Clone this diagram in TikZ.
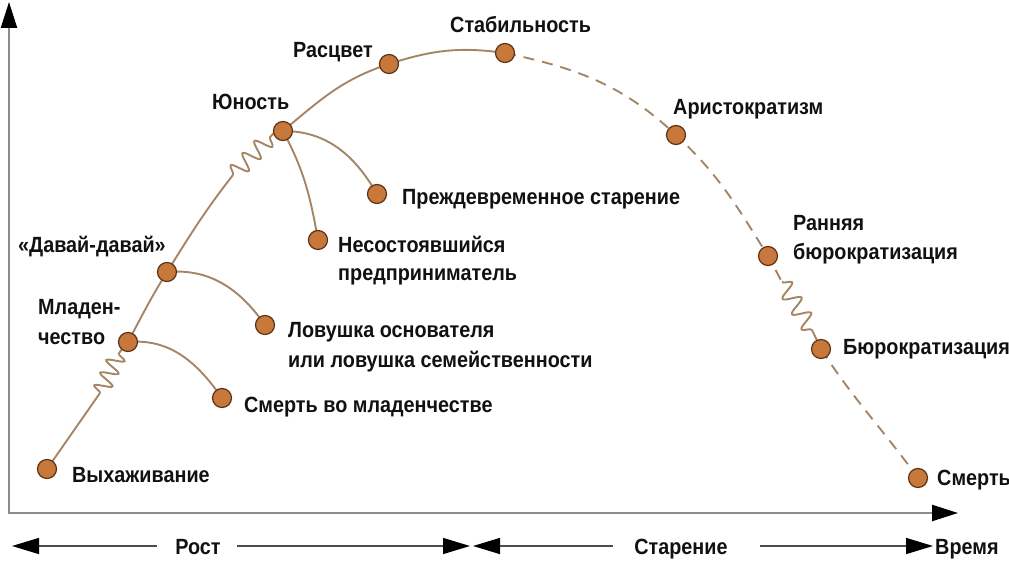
\documentclass[tikz,border=0pt]{standalone}
\usepackage{fontspec}
\setmainfont{Liberation Sans}[FakeStretch=0.9]
\usetikzlibrary{arrows.meta,decorations.pathmorphing}
\definecolor{curve}{HTML}{A48565}
\definecolor{dotfill}{HTML}{C8783A}
\definecolor{dotedge}{HTML}{5C3418}
\definecolor{axisgray}{HTML}{8C8C8C}
\definecolor{txt}{HTML}{111111}
\pgfdeclarelayer{bg}
\pgfsetlayers{bg,main}
\begin{document}
\begin{tikzpicture}[x=1pt,y=1pt,
 dot/.style={circle,fill=dotfill,draw=dotedge,line width=1.2pt,minimum size=19pt,inner sep=0pt},
 lbl/.style={anchor=base west,inner sep=0pt,text=txt,font=\fontsize{22}{26}\selectfont\bfseries},
 clbl/.style={lbl,anchor=base},
 crv/.style={draw=curve,line width=1.9pt},
 dcrv/.style={crv,dash pattern=on 11pt off 8pt},
 spring/.style={crv,decorate,decoration={snake,segment length=#1,amplitude=8.5pt}},
 axis/.style={draw=axisgray,line width=2.3pt},
 barr/.style={draw=black!70,line width=1.4pt},
 tip/.style={-{Triangle[length=27pt,width=16pt,color=black]}}]
\useasboundingbox (0,0) rectangle (1009,560);
% dots
\node[dot] (A) at (47,91) {};
\node[dot] (B) at (128,218) {};
\node[dot] (C) at (167,288) {};
\node[dot] (D) at (283,429) {};
\node[dot] (E) at (389,496) {};
\node[dot] (F) at (505,507) {};
\node[dot] (G) at (676,425) {};
\node[dot] (H) at (768,304) {};
\node[dot] (I) at (821,211) {};
\node[dot] (J) at (918,82) {};
\node[dot] (K) at (377,366) {};
\node[dot] (L) at (318,320) {};
\node[dot] (M) at (265,235) {};
\node[dot] (N) at (222,162) {};
% spring ends
\coordinate (S1a) at (100,167);
\coordinate (S1b) at (119,207);
\coordinate (S2a) at (233,385);
\coordinate (S2b) at (275,428);
\coordinate (S3a) at (782,278);
\coordinate (S3b) at (813,228);
\begin{pgfonlayer}{bg}
\draw[crv] (A.center) -- (S1a);
\draw[spring=14pt] (S1a) -- (S1b);
\draw[crv] (S1b) -- (B.center) to[out=62,in=238] (C.center) to[out=58,in=232] (S2a);
\draw[spring=17pt] (S2a) -- (S2b);
\draw[crv] (S2b) -- (D.center) to[out=40,in=198] (E.center) to[out=18,in=172] (F.center);
\draw[dcrv] (F.center) to[out=-12,in=137] (G.center) to[out=-43,in=122] (H.center) -- (S3a);
\draw[spring=18pt] (S3a) -- (S3b);
\draw[dcrv] (S3b) -- (I.center) to[out=-57,in=126] (J.center);
% branches
\draw[crv] (B.center) to[out=5,in=125] (N.center);
\draw[crv] (C.center) to[out=5,in=125] (M.center);
\draw[crv] (D.center) to[out=0,in=120] (K.center);
\draw[crv] (D.center) to[out=-62,in=100] (L.center);
\end{pgfonlayer}
% labels
\node[lbl] (tA) at (72,78) {Выхаживание};
\node[lbl] (tB1) at (38,245) {Младен-};
\node[lbl] (tB2) at (38,215) {чество};
\node[lbl] (tC) at (18,307) {«Давай-давай»};
\node[lbl] (tD) at (212,450) {Юность};
\node[lbl] (tE) at (293,502) {Расцвет};
\node[lbl] (tF) at (450,527) {Стабильность};
\node[lbl] (tG) at (673,445) {Аристократизм};
\node[lbl] (tH1) at (793,329) {Ранняя};
\node[lbl] (tH2) at (793,300) {бюрократизация};
\node[lbl] (tI) at (843,205) {Бюрократизация};
\node[lbl] (tJ) at (937,75) {Смерть};
\node[lbl] (tK) at (402,355) {Преждевременное старение};
\node[lbl] (tL1) at (338,307) {Несостоявшийся};
\node[lbl] (tL2) at (338,279) {предприниматель};
\node[lbl] (tM1) at (288,222) {Ловушка основателя};
\node[lbl] (tM2) at (288,193) {или ловушка семейственности};
\node[lbl] (tN) at (244,148) {Смерть во младенчестве};
% axes
\coordinate (Ytop) at (9,558);
\coordinate (O) at (9,47);
\coordinate (Xend) at (958,47);
\draw[axis,{Triangle[length=26pt,width=16pt,color=black]}-{Triangle[length=26pt,width=16pt,color=black]}] (Ytop) -- (O) -- (Xend);
% bottom scale
\node[clbl] (tR) at (198,6) {Рост};
\node[clbl] (tS) at (681,6) {Старение};
\node[lbl] (tT) at (935,6) {Время};
\coordinate (b1) at (12,14);
\coordinate (b2) at (157,14);
\coordinate (b3) at (237,14);
\coordinate (b4) at (470,14);
\coordinate (b5) at (473,14);
\coordinate (b6) at (613,14);
\coordinate (b7) at (760,14);
\coordinate (b8) at (933,14);
\draw[barr,tip] (b2) -- (b1);
\draw[barr,tip] (b3) -- (b4);
\draw[barr,tip] (b6) -- (b5);
\draw[barr,tip] (b7) -- (b8);
\end{tikzpicture}
\end{document}
